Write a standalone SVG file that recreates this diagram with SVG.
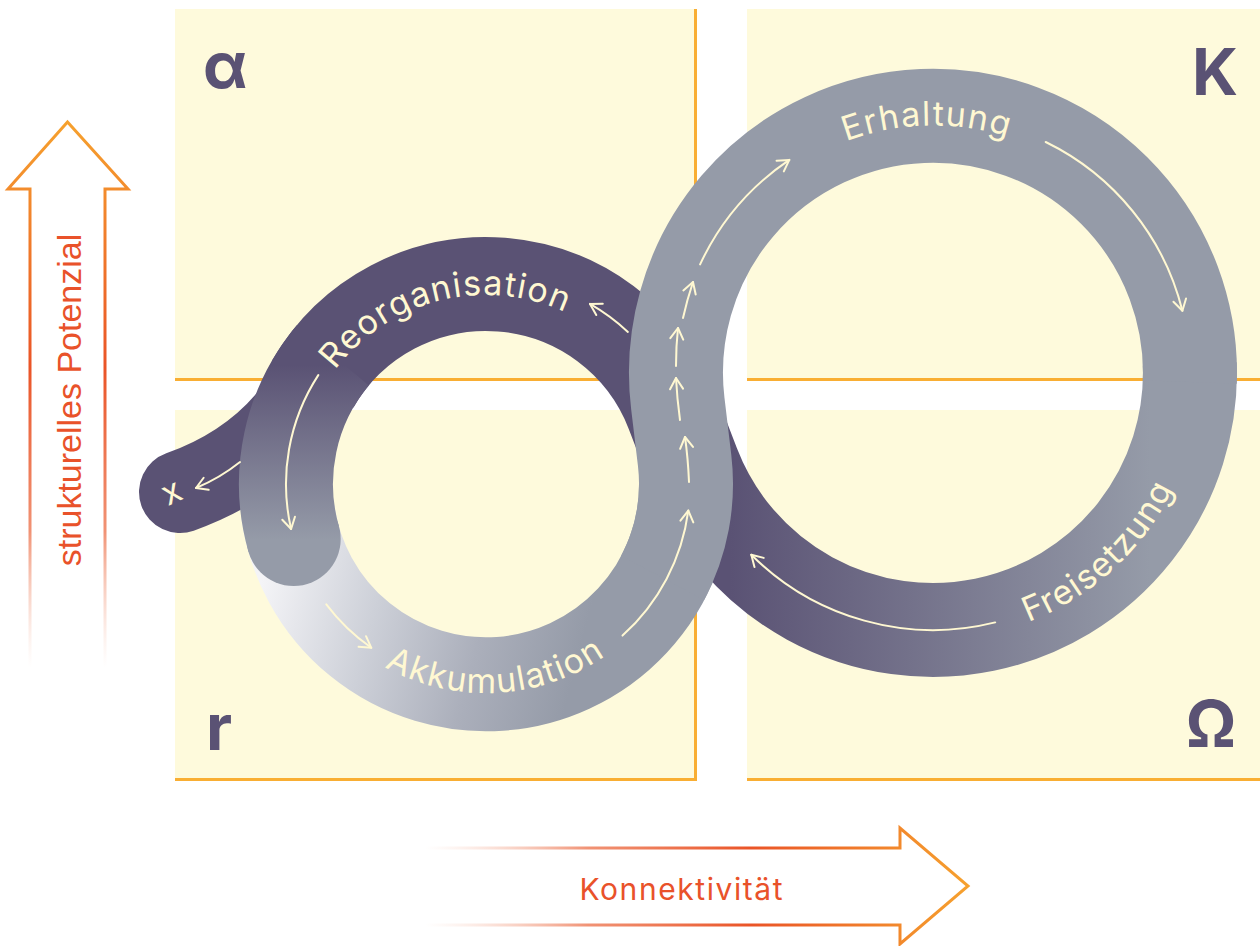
<svg xmlns="http://www.w3.org/2000/svg" width="1260" height="946" viewBox="0 0 1260 946">
<defs>
<style>
.panel{fill:#FEFADC}
.edge{stroke:#F9AE33;stroke-width:3;fill:none}
.greek{font-family:Inter,"Noto Sans","DejaVu Sans",sans-serif;font-weight:700;fill:#5A5274;font-size:64px}
.band{fill:none;stroke-width:94}
.lbl{font-family:Inter,"Noto Sans",sans-serif;font-size:34px;fill:#FFF8D2;letter-spacing:1.3px}
.arr{fill:none;stroke:#FFF8D2;stroke-width:2;stroke-linecap:round;marker-end:url(#ah)}
.axis{fill:#E9522A}
</style>
<marker id="ah" markerUnits="userSpaceOnUse" viewBox="-14 -10 16 20" markerWidth="16" markerHeight="20" refX="0" refY="0" orient="auto">
<path d="M -11 -6.5 L 0 0 L -11 6.5" fill="none" stroke="#FFF8D2" stroke-width="2" stroke-linecap="round" stroke-linejoin="round"/>
</marker>
<linearGradient id="gA" gradientUnits="userSpaceOnUse" x1="270" y1="550" x2="620" y2="640">
<stop offset="0" stop-color="#F4F4F7"/><stop offset="0.32" stop-color="#CDD0D8"/><stop offset="0.62" stop-color="#ABAFBB"/><stop offset="0.9" stop-color="#959BA8"/>
</linearGradient>
<linearGradient id="gD" gradientUnits="userSpaceOnUse" x1="1150" y1="0" x2="730" y2="0">
<stop offset="0" stop-color="#959BA8"/><stop offset="1" stop-color="#5A5274"/>
</linearGradient>
<linearGradient id="gR" gradientUnits="userSpaceOnUse" x1="0" y1="365" x2="0" y2="540">
<stop offset="0" stop-color="#5A5274"/><stop offset="1" stop-color="#959BA8"/>
</linearGradient>
<linearGradient id="gV" gradientUnits="userSpaceOnUse" x1="0" y1="122" x2="0" y2="668">
<stop offset="0" stop-color="#F6A12E"/><stop offset="0.45" stop-color="#EA5427"/><stop offset="0.75" stop-color="#EE7F5C" stop-opacity="0.85"/><stop offset="1" stop-color="#F7C9B8" stop-opacity="0"/>
</linearGradient>
<linearGradient id="gH" gradientUnits="userSpaceOnUse" x1="425" y1="0" x2="968" y2="0">
<stop offset="0" stop-color="#F7C9B8" stop-opacity="0"/><stop offset="0.3" stop-color="#EE7F5C" stop-opacity="0.85"/><stop offset="0.6" stop-color="#EA5427"/><stop offset="1" stop-color="#F6A12E"/>
</linearGradient>
<path id="pReorg" d="M 304.3 431.9 A 189 189 0 0 1 622 352.7"/>
<path id="pErh" d="M 740 218.9 A 246 246 0 0 1 1118.3 209.7"/>
<path id="pAkk" d="M 309.9 598.4 A 211 211 0 0 0 673.1 579.3"/>
<path id="pFrei" d="M 922.3 639.8 A 268 268 0 0 0 1199.8 383.7"/>
</defs>

<g id="panels">
<rect class="panel" x="175" y="9" width="521" height="371"/>
<rect class="panel" x="747" y="9" width="513" height="371"/>
<rect class="panel" x="175" y="410" width="521" height="370"/>
<rect class="panel" x="747" y="410" width="513" height="370"/>
<path class="edge" d="M 175 379.5 H 695.5 V 9"/>
<path class="edge" d="M 747 379.5 H 1260"/>
<path class="edge" d="M 175 779.5 H 695.5 V 410"/>
<path class="edge" d="M 747 779.5 H 1260"/>
</g>

<g id="quadrant-labels">
<text class="greek" x="203" y="88" font-size="60">α</text>
<text class="greek" x="1238" y="95" text-anchor="end">K</text>
<text class="greek" x="206" y="750">r</text>
<text class="greek" x="1236" y="747" text-anchor="end">Ω</text>
</g>

<g id="axis-potential">
<path d="M 30 668 V 189 H 8 L 67.5 122 L 128 189 H 105 V 668" fill="none" stroke="url(#gV)" stroke-width="3"/>
<text class="axis" font-family="'Liberation Sans', Arial, sans-serif" font-size="34" transform="translate(81 400) rotate(-90)" text-anchor="middle">strukturelles Potenzial</text>
</g>

<g id="axis-connectivity">
<path d="M 425 848 H 900 V 828 L 968 886 L 900 944 V 925 H 425" fill="none" stroke="url(#gH)" stroke-width="3"/>
<text class="axis" font-family="Inter, 'Noto Sans', sans-serif" font-size="30" x="681" y="900" text-anchor="middle" textLength="203" lengthAdjust="spacing">Konnektivität</text>
</g>

<g id="cycle">
<path id="tail" d="M 312.8 384 Q 270 460 180 492" fill="none" stroke="#5A5274" stroke-width="82" stroke-linecap="round"/>
<path id="akkumulation-band" class="band" stroke="url(#gA)" d="M 287.9 511.8 A 200 200 0 0 0 686 484"/>
<path id="release-band" class="band" stroke="url(#gD)" d="M 1189.8 364 A 257 257 0 0 1 693.2 465.5 L 672.6 412 A 200 200 0 0 0 312.8 384"/>
<path id="reorg-end" class="band" stroke="url(#gR)" d="M 332.8 355.4 A 200 200 0 0 0 293.7 539.1"/>
<circle cx="293.7" cy="539.1" r="47" fill="url(#gR)"/>
<path id="growth-band" class="band" stroke="#959BA8" d="M 662.6 577.9 A 200 200 0 0 0 684.6 460.3 L 677.8 403.4 A 257 257 0 1 1 1189.8 382"/>
</g>

<g id="connectors">
<path class="arr" d="M 700.1 264.4 A 257 257 0 0 1 789.3 159.9"/>
<path class="arr" d="M 1045.7 142 A 257 257 0 0 1 1182.4 310.8"/>
<path class="arr" d="M 995.2 622.4 A 257 257 0 0 1 751.3 554.7"/>
<path class="arr" d="M 627.9 331.9 A 208 208 0 0 0 590 303.9"/>
<path class="arr" d="M 318.3 375.1 A 200 200 0 0 0 291.1 529"/>
<path class="arr" d="M 240 462 Q 220 478 196 488"/>
<path class="arr" d="M 326.3 604.4 A 200 200 0 0 0 371.3 647.8"/>
<path class="arr" d="M 622.5 635.6 A 204 204 0 0 0 688.3 510.6"/>
<path class="arr" d="M 689 482 Q 688 458 685 437"/>
<path class="arr" d="M 680 420 Q 677 398 676 378"/>
<path class="arr" d="M 676 366 Q 676 346 678 328"/>
<path class="arr" d="M 683 318 Q 687 300 693 282"/>
</g>

<g id="phase-labels">
<text class="lbl"><textPath href="#pReorg" startOffset="50%" text-anchor="middle">Reorganisation</textPath></text>
<text class="lbl"><textPath href="#pErh" startOffset="50%" text-anchor="middle">Erhaltung</textPath></text>
<text class="lbl"><textPath href="#pAkk" startOffset="50%" text-anchor="middle">Akkumulation</textPath></text>
<text class="lbl"><textPath href="#pFrei" startOffset="50%" text-anchor="middle">Freisetzung</textPath></text>
<text class="lbl" x="173" y="503" text-anchor="middle" font-size="28" transform="rotate(-25 173 494)">x</text>
</g>
</svg>
